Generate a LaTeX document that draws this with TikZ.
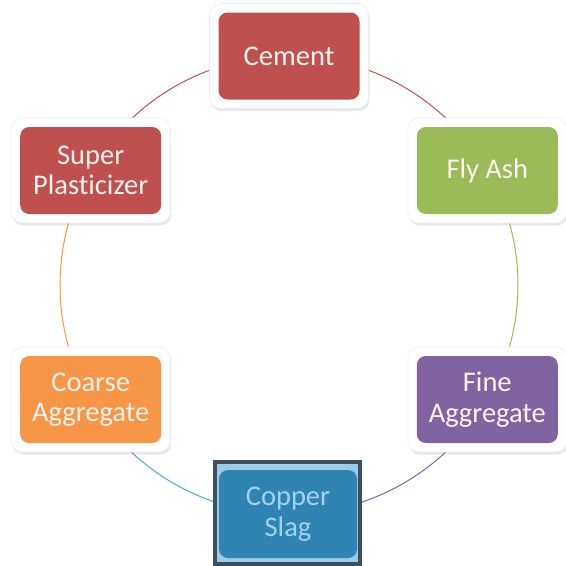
\documentclass[tikz,border=0pt]{standalone}
\usepackage{fontspec}
\setmainfont{Carlito}[Ligatures=NoCommon]
\usetikzlibrary{shadows}
\pgfdeclarelayer{bg}
\pgfsetlayers{bg,main}
\definecolor{cRed}{HTML}{C0504D}
\definecolor{cGreen}{HTML}{9BBB59}
\definecolor{cPurple}{HTML}{8064A2}
\definecolor{cOrange}{HTML}{F79646}
\definecolor{cTeal}{HTML}{4BACC6}
\definecolor{cBlue}{HTML}{2F84B3}
\definecolor{cBlueText}{HTML}{A3D2EC}
\definecolor{cBand}{HTML}{9CCBE5}
\definecolor{cFrame}{HTML}{3B4F5E}
\definecolor{cText}{HTML}{FBF3EE}
\begin{document}
\begin{tikzpicture}[x=1pt,y=1pt,
  outerbox/.style={fill=white, draw=black!7, line width=0.6pt, rounded corners=11pt, minimum width=159pt, minimum height=105pt, inner sep=0pt,
    drop shadow={shadow xshift=1pt, shadow yshift=-2.5pt, opacity=0.18}},
  innerbox/.style={rounded corners=9pt, minimum width=141pt, minimum height=87pt, inner sep=0pt,
    align=center, text=cText, font=\fontsize{28.5}{30.5}\selectfont},
  arcline/.style={line width=1pt}]
\useasboundingbox (0,0) rectangle (566,-566);
\coordinate (o) at (289,-285);
% boxes
\node[outerbox] (cementbg) at (289,-56) {};
\node[innerbox, fill=cRed] (cement) at (cementbg) {Cement};
\node[outerbox] (flyashbg) at (487.3,-170.5) {};
\node[innerbox, fill=cGreen] (flyash) at (flyashbg) {Fly Ash};
\node[outerbox] (finebg) at (487.3,-399.5) {};
\node[innerbox, fill=cPurple] (fine) at (finebg) {Fine\\Aggregate};
\node[outerbox] (coarsebg) at (90.7,-399.5) {};
\node[innerbox, fill=cOrange] (coarse) at (coarsebg) {Coarse\\Aggregate};
\node[outerbox] (superbg) at (90.7,-170.5) {};
\node[innerbox, fill=cRed] (super) at (superbg) {Super\\Plasticizer};
% copper slag (selected)
\node[draw=cFrame, line width=4pt, fill=cBand, minimum width=145pt, minimum height=102pt, inner sep=0pt] (copperbg) at (287.5,-513) {};
\node[innerbox, fill=cBlue, text=cBlueText, minimum width=138pt, minimum height=88pt] (copper) at (288,-514) {Copper\\Slag};
% connectors
\begin{pgfonlayer}{bg}
\draw[arcline, draw=cRed] (cement.center) arc[start angle=90, end angle=30, radius=229pt];
\draw[arcline, draw=cGreen] (flyash.center) arc[start angle=30, end angle=-30, radius=229pt];
\draw[arcline, draw=cPurple] (fine.center) arc[start angle=-30, end angle=-90, radius=229pt];
\draw[arcline, draw=cTeal] (copper.center) arc[start angle=-90, end angle=-150, radius=229pt];
\draw[arcline, draw=cOrange] (coarse.center) arc[start angle=210, end angle=150, radius=229pt];
\draw[arcline, draw=cRed] (super.center) arc[start angle=150, end angle=90, radius=229pt];
\end{pgfonlayer}
\end{tikzpicture}
\end{document}
